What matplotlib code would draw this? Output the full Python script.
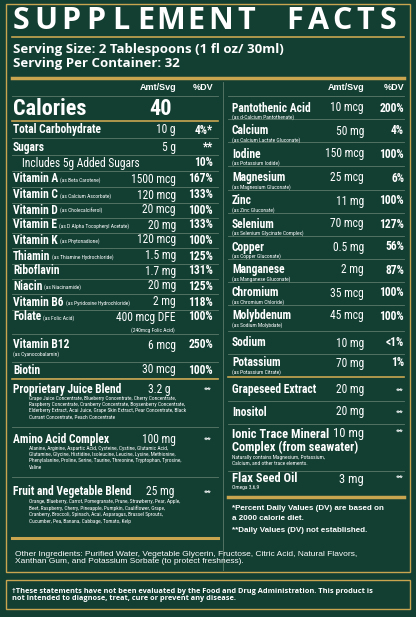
import matplotlib
matplotlib.use('Agg')
import matplotlib.pyplot as plt
from matplotlib.patches import Rectangle

W, H = 416, 617
BG = '#133f33'
GOLD = '#c9a550'
LINE = '#5d7a6c'
NARROW = ['Roboto Condensed', 'Liberation Sans Narrow', 'Roboto', 'DejaVu Sans']
SANS = ['Liberation Sans', 'DejaVu Sans']
OPEN = ['Open Sans', 'DejaVu Sans']

title_words = ['SUPPLEMENT', 'FACTS']
serving = ['Serving Size: 2 Tablespoons (1 fl oz/ 30ml)', 'Serving Per Container: 32']

left_names = ['Total Carbohydrate', 'Sugars', 'Includes 5g Added Sugars', 'Vitamin A', 'Vitamin C',
              'Vitamin D', 'Vitamin E', 'Vitamin K', 'Thiamin', 'Riboflavin', 'Niacin',
              'Vitamin B6', 'Folate', 'Vitamin B12', 'Biotin']
left_subs = ['', '', '', '(as Beta Carotene)', '(as Calcium Ascorbate)', '(as Cholecalciferol)',
             '(as D Alpha Tocopheryl Acetate)', '(as Phytonadione)', '(as Thiamine Hydrochloride)',
             '', '(as Niacinamide)', '(as Pyridoxine Hydrochloride)', '(as Folic Acid)',
             '(as Cyanocobalamin)', '']
left_amt = ['10 g', '5 g', '', '1500 mcg', '120 mcg', '20 mcg', '20 mg', '120 mcg', '1.5 mg',
            '1.7 mg', '20 mg', '2 mg', '400 mcg DFE', '6 mcg', '30 mcg']
left_dv = ['4%*', '**', '10%', '167%', '133%', '100%', '133%', '100%', '125%', '131%', '125%',
           '118%', '100%', '250%', '100%']

right_names = ['Pantothenic Acid', 'Calcium', 'Iodine', 'Magnesium', 'Zinc', 'Selenium', 'Copper',
               'Manganese', 'Chromium', 'Molybdenum', 'Sodium', 'Potassium', 'Grapeseed Extract',
               'Inositol']
right_subs = ['(as d-Calcium Pantothenate)', '(as Calcium Lactate Gluconate)', '(as Potassium Iodide)',
              '(as Magnesium Gluconate)', '(as Zinc Gluconate)', '(as Selenium Glycinate Complex)',
              '(as Copper Gluconate)', '(as Manganese Gluconate)', '(as Chromium Chloride)',
              '(as Sodium Molybdate)', '', '(as Potassium Citrate)', '', '']
right_amt = ['10 mcg', '50 mg', '150 mcg', '25 mcg', '11 mg', '70 mcg', '0.5 mg', '2 mg', '35 mcg',
             '45 mcg', '10 mg', '70 mg', '20 mg', '20 mg']
right_dv = ['200%', '4%', '100%', '6%', '100%', '127%', '56%', '87%', '100%', '100%', '<1%', '1%',
            '**', '**']

blend_names = ['Proprietary Juice Blend', 'Amino Acid Complex', 'Fruit and Vegetable Blend']
blend_amt = ['3.2 g', '100 mg', '25 mg']
blend_text = [
    'Grape Juice Concentrate, Blueberry Concentrate, Cherry Concentrate,\n'
    'Raspberry Concentrate, Cranberry Concentrate, Boysenberry Concentrate,\n'
    'Elderberry Extract, Acai Juice, Grape Skin Extract, Pear Concentrate, Black\n'
    'Currant Concentrate, Peach Concentrate',
    'Alanine, Arginine, Aspartic Acid, Cysteine, Cystine, Glutamic Acid,\n'
    'Glutamine, Glycine, Histidine, Isoleucine, Leucine, Lysine, Methionine,\n'
    'Phenylalanine, Proline, Serine, Taurine, Threonine, Tryptophan, Tyrosine,\n'
    'Valine',
    'Orange, Blueberry, Carrot, Pomegranate, Prune, Strawberry, Pear, Apple,\n'
    'Beet, Raspberry, Cherry, Pineapple, Pumpkin, Cauliflower, Grape,\n'
    'Cranberry, Broccoli, Spinach, Acai, Asparagus, Brussel Sprouts,\n'
    'Cucumber, Pea, Banana, Cabbage, Tomato, Kelp',
]

fig = plt.figure(figsize=(W / 100, H / 100), dpi=100)
fig.patch.set_facecolor(BG)
ax = fig.add_axes([0, 0, 1, 1])
ax.set_xlim(0, W)
ax.set_ylim(H, 0)
ax.axis('off')
renderer = fig.canvas.get_renderer()

FS = 8.3


def t(x, y, s, size=FS, weight='bold', ha='left', va='center', family=NARROW, **kw):
    return ax.text(x, y, s, fontsize=size, fontweight=weight, ha=ha, va=va, color='white',
                   family=family, **kw)


def right_edge(txt):
    bb = txt.get_window_extent(renderer)
    return ax.transData.inverted().transform((bb.x1, bb.y0))[0]


def hline(x0, x1, y, color=LINE, lw=0.6):
    ax.plot([x0, x1], [y, y], color=color, lw=lw)


# borders
ax.add_patch(Rectangle((6, 4), 404, 568, fill=False, ec=GOLD, lw=1))
ax.add_patch(Rectangle((6, 580), 404, 29, fill=False, ec=GOLD, lw=1))

# title with letter spacing
for word, x0, step in zip(title_words, (21, 295), (25, 23.3)):
    for i, ch in enumerate(word):
        t(x0 + i * step, 21, ch, size=22, ha='center', family=OPEN)
hline(12, 404, 37, GOLD, 1.2)
t(13, 50, serving[0], size=9.5, family=OPEN)
t(13, 63, serving[1], size=9.5, family=OPEN)
hline(12, 404, 78, GOLD, 2.5)
ax.plot([223, 223], [82, 570], color=LINE, lw=0.6)

# column headers
for xa, xd in ((176, 213), (364, 404)):
    t(xa, 87, 'Amt/Svg', size=6.5, ha='right', family=SANS)
    t(xd, 87, '%DV', size=6.5, ha='right', family=SANS)
hline(12, 218, 96)
hline(228, 404, 96)

t(13, 109, 'Calories', size=16)
t(172, 109, '40', size=16, ha='right')
hline(12, 218, 121, GOLD, 1.2)

# left rows
left_y = [130, 147, 163, 179, 195, 210, 225, 240, 256, 271, 286, 302, 317, 345, 370]
for name, sub, amt, dv, y in zip(left_names, left_subs, left_amt, left_dv, left_y):
    bold = 'Includes' not in name
    txt = t(22 if not bold else 13, y, name, weight='bold' if bold else 'normal')
    if sub:
        if name == 'Vitamin B12':
            t(13, y + 9, sub, size=4, weight='normal')
        else:
            t(right_edge(txt) + 2, y + 1, sub, size=4, weight='normal')
    t(176, y, amt, weight='normal', ha='right')
    t(213, y, dv, ha='right')
    gap = 8 if name not in ('Folate', 'Vitamin B12') else 17
    hline(12, 218, y + gap)
t(175, 330, '(240mcg Folic Acid)', size=4, weight='normal', ha='right')

# blends
hline(12, 218, 379, GOLD, 1.2)
blend_y = [389, 439, 492]
blend_amt_x = [148, 142, 146]
for name, amt, txt, y, ax_ in zip(blend_names, blend_amt, blend_text, blend_y, blend_amt_x):
    t(13, y, name)
    t(ax_, y, amt, weight='normal')
    t(212, y, '**', size=6, ha='right')
    t(29, y + 7, txt, size=3.9, weight='normal', va='top', linespacing=1.3)
hline(12, 218, 427)
hline(12, 218, 477)
hline(12, 218, 538, GOLD, 2.2)

# right rows
right_y = [108, 131, 154, 178, 201, 224, 247, 270, 293, 316, 343, 363, 390, 412]
for name, sub, amt, dv, y in zip(right_names, right_subs, right_amt, right_dv, right_y):
    t(232, y, name)
    if sub:
        t(232, y + 9, sub, size=4, weight='normal')
    t(364, y, amt, weight='normal', ha='right')
    t(404, y, dv, size=FS if dv != '**' else 6, ha='right')
for yl in [119, 142, 166, 190, 213, 236, 259, 282, 305, 331, 354, 401, 424]:
    hline(228, 404, yl)
hline(228, 404, 377, GOLD, 1.2)

t(232, 434, 'Ionic Trace Mineral', size=9)
t(232, 447, 'Complex (from seawater)', size=9)
t(364, 434, '10 mg', size=9, weight='normal', ha='right')
t(404, 431, '**', size=6, ha='right')
t(232, 455, 'Naturally contains Magnesium, Potassium,\nCalcium, and other trace elements.',
  size=4, weight='normal', va='top')
hline(228, 404, 471)
t(232, 479, 'Flax Seed Oil', size=9)
t(232, 488, 'Omega 3,6,9', size=4, weight='normal')
t(364, 479, '3 mg', size=9, weight='normal', ha='right')
t(404, 477, '**', size=6, ha='right')
hline(228, 404, 497, GOLD, 2.5)
t(232, 508, '*Percent Daily Values (DV) are based on', size=5.8, family=SANS)
t(232, 518, 'a 2000 calorie diet.', size=5.8, family=SANS)
t(232, 530, '**Daily Values (DV) not established.', size=5.8, family=SANS)

t(15, 558, 'Other Ingredients: Purified Water, Vegetable Glycerin, Fructose, Citric Acid, Natural Flavors,\n'
  'Xanthan Gum, and Potassium Sorbate (to protect freshness).', size=6.0, weight='normal',
  family=SANS, linespacing=1.15)

t(12, 595, '\u2020These statements have not been evaluated by the Food and Drug Administration. This product is\n'
  'not Intended to diagnose, treat, cure or prevent any disease.', size=5.3,
  family=OPEN, linespacing=1.15)

fig.savefig('out.png', dpi=100, facecolor=BG)
